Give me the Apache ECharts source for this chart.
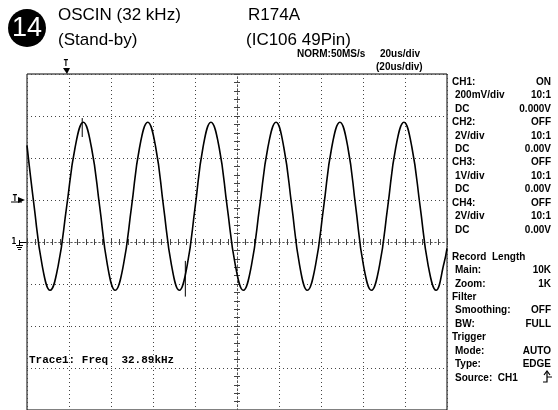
<!DOCTYPE html>
<html>
<head>
<meta charset="utf-8">
<script src="https://cdn.jsdelivr.net/npm/echarts@6/dist/echarts.min.js"></script>
<style>
html,body{margin:0;padding:0;background:#fff;}
#chart{width:558px;height:410px;}
</style>
</head>
<body>
<div id="chart"></div>
<script>
// Time axis in microseconds relative to screen centre (20 us/div, 10 div)
const timeUs = [-100, -96.6, -92.8, -89.0, -85.1, -81.1, -77.1, -73.2, -69.3, -65.4, -61.7, -58.0,
  -54.1, -50.2, -46.4, -42.5, -38.7, -35.0, -31.2, -27.5, -23.7, -19.9, -16.2, -12.4,
  -8.5, -4.7, -0.8, 3.0, 6.9, 10.8, 14.7, 18.6, 22.3, 26.1, 29.8, 33.5,
  37.4, 41.3, 45.1, 49.0, 52.8, 56.5, 60.2, 64.0, 67.9, 71.8, 75.6, 79.5,
  83.3, 87.2, 91.0, 94.8, 98.6, 100];
// CH1 voltage (200 mV/div, ground at centre line)
const ch1Volts = [0.46, 0.17, -0.11, -0.23, -0.11, 0.17, 0.45, 0.57, 0.45, 0.17, -0.11, -0.23,
  -0.11, 0.17, 0.45, 0.57, 0.45, 0.17, -0.11, -0.23, -0.11, 0.17, 0.45, 0.57,
  0.45, 0.17, -0.11, -0.23, -0.11, 0.17, 0.45, 0.57, 0.45, 0.17, -0.11, -0.23,
  -0.11, 0.17, 0.45, 0.57, 0.45, 0.17, -0.11, -0.23, -0.11, 0.17, 0.45, 0.57,
  0.45, 0.17, -0.11, -0.23, -0.10, -0.03];
// Two short glitch spikes visible on the trace
const glitch1 = [[-73.7, 0.59], [-73.7, 0.50]];
const glitch2 = [[-24.6, -0.09], [-24.6, -0.26]];

const xMin = -100, xMax = 100, xStep = 20;
const yMin = -0.8, yMax = 0.8, yStep = 0.2;

const panelLeft = ['CH1:', '200mV/div', 'DC', 'CH2:', '2V/div', 'DC', 'CH3:', '1V/div', 'DC',
  'CH4:', '2V/div', 'DC', '', 'Record  Length', 'Main:', 'Zoom:', 'Filter', 'Smoothing:', 'BW:',
  'Trigger', 'Mode:', 'Type:', 'Source:  CH1'];
const panelIndent = [0,1,1,0,1,1,0,1,1,0,1,1,0,0,1,1,0,1,1,0,1,1,1];
const panelRight = ['ON', '10:1', '0.000V', 'OFF', '10:1', '0.00V', 'OFF', '10:1', '0.00V',
  'OFF', '10:1', '0.00V', '', '', '10K', '1K', '', 'OFF', 'FULL', '', 'AUTO', 'EDGE', ''];

const chart = echarts.init(document.getElementById('chart'), null, {renderer: 'canvas'});

const gridLine = {color: '#444', width: 1, type: [1, 3]};
const panelFont = 'bold 10px "Liberation Sans", Arial, sans-serif';
const titleFont = '17px "Liberation Sans", Arial, sans-serif';

function centreAxis(inside, isX) {
  return {
    type: 'value', min: isX ? xMin : yMin, max: isX ? xMax : yMax, interval: isX ? xStep : yStep,
    position: isX ? 'bottom' : 'left',
    axisLine: {show: true, onZero: true, lineStyle: {color: '#555', width: 1, type: [1, 3]}},
    axisTick: {show: true, inside: inside, length: 3, lineStyle: {color: '#444', width: 1}},
    minorTick: {show: true, splitNumber: 5, length: 3, lineStyle: {color: '#444', width: 1}},
    axisLabel: {show: false}, splitLine: {show: false}
  };
}

function txt(x, y, s, font, align) {
  return {type: 'text', x: x, y: y, style: {text: s, fill: '#000', font: font,
    textAlign: align || 'left', align: align || 'left', textVerticalAlign: 'middle', verticalAlign: 'middle'}};
}

const graphics = [
  {type: 'circle', shape: {cx: 27, cy: 28, r: 19}, style: {fill: '#000'}},
  {type: 'text', x: 27, y: 29, style: {text: '14', fill: '#fff', font: '27px "Liberation Sans Narrow", "Liberation Sans", Arial', textAlign: 'center', textVerticalAlign: 'middle', align: 'center', verticalAlign: 'middle'}},
  txt(58, 15, 'OSCIN (32 kHz)', titleFont),
  txt(58, 40, '(Stand-by)', titleFont),
  txt(248, 15, 'R174A', titleFont),
  txt(246, 40, '(IC106 49Pin)', titleFont),
  txt(297, 54, 'NORM:50MS/s', panelFont),
  txt(380, 54, '20us/div', panelFont),
  txt(376, 67, '(20us/div)', panelFont),
  txt(29, 360, 'Trace1: Freq  32.89kHz', 'bold 11px "Liberation Mono", "DejaVu Sans Mono", monospace'),
  // trigger position marker (top)
  txt(66, 64, 'T', 'bold 8px "DejaVu Sans Mono", monospace', 'center'),
  {type: 'polygon', shape: {points: [[63, 68], [70, 68], [67, 74]]}, style: {fill: '#000'}},
  // trigger level marker (left)
  txt(15, 199, 'T', 'bold 8px "DejaVu Sans Mono", monospace', 'center'),
  {type: 'polygon', shape: {points: [[18, 197], [18, 203], [25, 200]]}, style: {fill: '#000'}},
  {type: 'line', shape: {x1: 11, y1: 202, x2: 22, y2: 202}, style: {stroke: '#000', lineWidth: 1}},
  // ground marker for CH1
  txt(14, 242, '1', 'bold 8px "DejaVu Sans Mono", monospace', 'center'),
  {type: 'line', shape: {x1: 19.5, y1: 240, x2: 19.5, y2: 245}, style: {stroke: '#000', lineWidth: 1}},
  {type: 'line', shape: {x1: 16, y1: 245.5, x2: 23, y2: 245.5}, style: {stroke: '#000', lineWidth: 1}},
  {type: 'line', shape: {x1: 17, y1: 247.5, x2: 22, y2: 247.5}, style: {stroke: '#000', lineWidth: 1}},
  {type: 'line', shape: {x1: 18, y1: 249.5, x2: 21, y2: 249.5}, style: {stroke: '#000', lineWidth: 1}},
  {type: 'line', shape: {x1: 19, y1: 242.5, x2: 27, y2: 242.5}, style: {stroke: '#000', lineWidth: 1}},
  // rising edge symbol for trigger source
  {type: 'polyline', shape: {points: [[543, 382], [547, 382], [547, 372]]}, style: {stroke: '#000', lineWidth: 1.2, fill: null}},
  {type: 'polyline', shape: {points: [[544, 375], [547, 371], [550, 375]]}, style: {stroke: '#000', lineWidth: 1.2, fill: null}},
  {type: 'line', shape: {x1: 547, y1: 377, x2: 552, y2: 377}, style: {stroke: '#000', lineWidth: 1}}
];

const lineY0 = 82, lineStep = 13.45;
panelLeft.forEach(function (t, i) {
  const y = lineY0 + i * lineStep;
  if (t) graphics.push(txt(panelIndent[i] ? 455 : 452, y, t, panelFont));
  if (panelRight[i]) graphics.push(txt(551, y, panelRight[i], panelFont, 'right'));
});

const option = {
  animation: false,
  backgroundColor: '#fff',
  grid: {left: 27, top: 74, width: 420, height: 337, show: true, borderColor: '#000', borderWidth: 1, backgroundColor: 'transparent'},
  xAxis: [
    {type: 'value', min: xMin, max: xMax, interval: xStep, axisLine: {show: false}, axisTick: {show: false},
      axisLabel: {show: false}, splitLine: {show: true, lineStyle: gridLine}},
    centreAxis(true, true),
    centreAxis(false, true)
  ],
  yAxis: [
    {type: 'value', min: yMin, max: yMax, interval: yStep, axisLine: {show: false}, axisTick: {show: false},
      axisLabel: {show: false}, splitLine: {show: true, lineStyle: gridLine}},
    centreAxis(true, false),
    centreAxis(false, false)
  ],
  series: [
    {type: 'line', xAxisIndex: 0, yAxisIndex: 0, data: timeUs.map(function (t, i) { return [t, ch1Volts[i]]; }),
      smooth: 0.45, showSymbol: false, lineStyle: {color: '#000', width: 1.6}, z: 5},
    {type: 'line', xAxisIndex: 0, yAxisIndex: 0, data: glitch1, showSymbol: false, lineStyle: {color: '#000', width: 1}, z: 5},
    {type: 'line', xAxisIndex: 0, yAxisIndex: 0, data: glitch2, showSymbol: false, lineStyle: {color: '#000', width: 1}, z: 5}
  ],
  graphic: graphics
};
chart.setOption(option);
</script>
</body>
</html>
